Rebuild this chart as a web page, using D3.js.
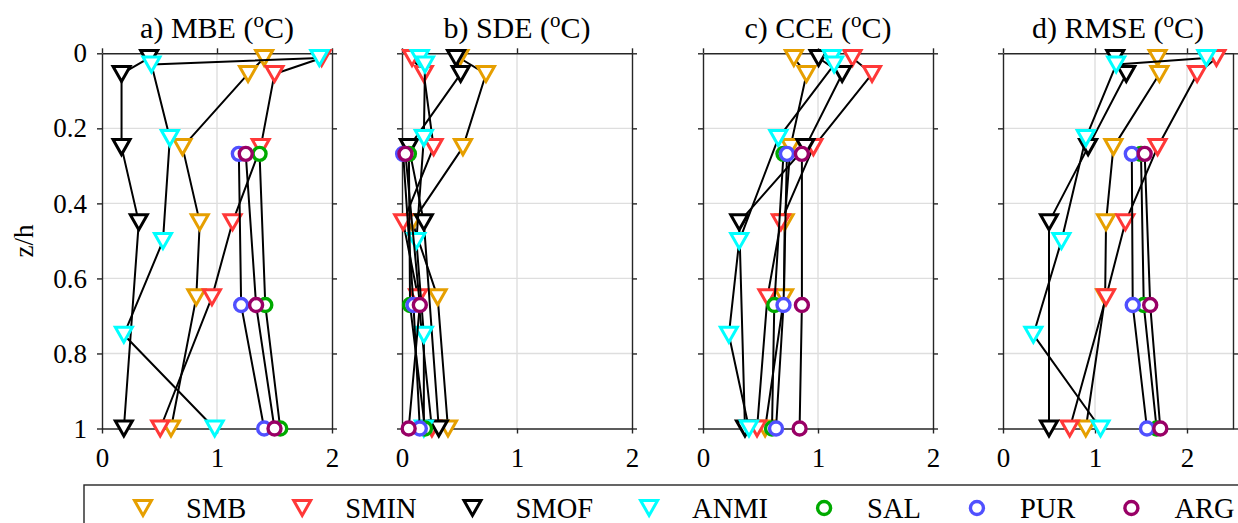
<!DOCTYPE html>
<html><head><meta charset="utf-8">
<script src="https://cdn.jsdelivr.net/npm/d3@7"></script>
<style>
html,body{margin:0;padding:0;background:#fff;overflow:hidden}
svg{display:block}
text{font-family:'Liberation Serif','Times New Roman',serif;fill:#000}
</style></head><body>
<svg id="chart" width="1238" height="523"></svg>
<script>
// Stations, in plotting / legend order
const stations = ["SMB", "SMIN", "SMOF", "ANMI", "SAL", "PUR", "ARG"];
const stationColors = ["#E69F00", "#FF3838", "#000000", "#00FFFF", "#00AA00", "#5050FF", "#990066"];
const stationMarkers = ["tri", "tri", "tri", "tri", "circle", "circle", "circle"];

// Normalized measurement heights z/h for each station
const zSMB  = [0.0125, 0.055, 0.25, 0.45, 0.65, 1];
const zSMIN = [0.0125, 0.055, 0.25, 0.45, 0.65, 1];
const zSMOF = [0.0125, 0.055, 0.25, 0.45, 1];
const zANMI = [0.0125, 0.03, 0.226, 0.5, 0.75, 1];
const zSAL  = [0.268, 0.671, 1];
const zPUR  = [0.268, 0.671, 1];
const zARG  = [0.268, 0.671, 1];

// a) mean bias error (°C)
const mbeSMB  = [1.41, 1.27, 0.70, 0.85, 0.82, 0.60];
const mbeSMIN = [1.91, 1.50, 1.38, 1.135, 0.956, 0.506];
const mbeSMOF = [0.41, 0.17, 0.17, 0.32, 0.19];
const mbeANMI = [1.89, 0.43, 0.59, 0.53, 0.19, 0.98];
const mbeSAL  = [1.37, 1.42, 1.55];
const mbePUR  = [1.19, 1.21, 1.41];
const mbeARG  = [1.25, 1.34, 1.50];

// b) standard deviation error (°C)
const sdeSMB  = [0.50, 0.73, 0.53, 0.09, 0.31, 0.40];
const sdeSMIN = [0.087, 0.19, 0.275, 0.01, 0.14, 0.26];
const sdeSMOF = [0.47, 0.51, 0.06, 0.19, 0.32];
const sdeANMI = [0.155, 0.20, 0.19, 0.125, 0.19, 0.19];
const sdeSAL  = [0.06, 0.07, 0.20];
const sdePUR  = [0.01, 0.10, 0.155];
const sdeARG  = [0.03, 0.155, 0.058];

// c) cross-correlation error (°C)
const cceSMB  = [0.79, 0.90, 0.76, 0.71, 0.705, 0.54];
const cceSMIN = [1.30, 1.47, 0.96, 0.677, 0.56, 0.47];
const cceSMOF = [1.005, 1.21, 0.89, 0.315, 0.365];
const cceANMI = [1.12, 1.14, 0.655, 0.315, 0.225, 0.40];
const cceSAL  = [0.70, 0.62, 0.60];
const ccePUR  = [0.73, 0.70, 0.635];
const cceARG  = [0.86, 0.86, 0.84];

// d) root mean square error (°C)
const rmseSMB  = [1.68, 1.70, 1.20, 1.12, 1.11, 0.90];
const rmseSMIN = [2.32, 2.11, 1.68, 1.33, 1.12, 0.725];
const rmseSMOF = [1.22, 1.34, 0.925, 0.50, 0.50];
const rmseANMI = [2.21, 1.23, 0.90, 0.635, 0.33, 1.06];
const rmseSAL  = [1.50, 1.53, 1.67];
const rmsePUR  = [1.40, 1.41, 1.565];
const rmseARG  = [1.54, 1.60, 1.71];

// Panel titles, x limits and tick labels
const panelTitles = ["a) MBE", "b) SDE", "c) CCE", "d) RMSE"];
const panelXMax = [2, 2, 2, 2.5];
const xTickValues = [0, 1, 2];
const yTickValues = [0, 0.2, 0.4, 0.6, 0.8, 1];
const yLabel = "z/h";

const heights = [zSMB, zSMIN, zSMOF, zANMI, zSAL, zPUR, zARG];
const panelValues = [
  [mbeSMB, mbeSMIN, mbeSMOF, mbeANMI, mbeSAL, mbePUR, mbeARG],
  [sdeSMB, sdeSMIN, sdeSMOF, sdeANMI, sdeSAL, sdePUR, sdeARG],
  [cceSMB, cceSMIN, cceSMOF, cceANMI, cceSAL, ccePUR, cceARG],
  [rmseSMB, rmseSMIN, rmseSMOF, rmseANMI, rmseSAL, rmsePUR, rmseARG]
];

// ---- layout ----
const serif = "'Liberation Serif','Times New Roman',serif";
const panelLeft = [102, 402, 703, 1003];
const panelWidth = 230;
const plotTop = 53.3, plotBottom = 428.5;
const axisColor = "#262626", gridColor = "#dedede";
const tickFont = 27, titleFont = 30, legendFont = 28.5;

const svg = d3.select("#chart");
const y = d3.scaleLinear().domain([0, 1]).range([plotTop, plotBottom]);

const triPath = "M-8.5,-7.5L8.5,-7.5L0,7.5Z";

function drawMarker(sel, kind, color) {
  if (kind === "tri") {
    sel.append("path").attr("d", triPath)
      .attr("fill", "#fff").attr("stroke", color)
      .attr("stroke-width", 3).attr("stroke-linejoin", "miter");
  } else {
    sel.append("circle").attr("r", 6.5)
      .attr("fill", "#fff").attr("stroke", color)
      .attr("stroke-width", 3.4);
  }
}

panelValues.forEach((vals, p) => {
  const x = d3.scaleLinear().domain([0, panelXMax[p]]).range([panelLeft[p], panelLeft[p] + panelWidth]);
  const g = svg.append("g");

  // grid
  const xGrid = xTickValues.filter(t => t > 0 && t < panelXMax[p]);
  g.selectAll(".gx").data(xGrid).join("line")
    .attr("x1", d => x(d)).attr("x2", d => x(d))
    .attr("y1", plotTop).attr("y2", plotBottom)
    .attr("stroke", gridColor).attr("stroke-width", 1.4);
  g.selectAll(".gy").data(yTickValues.filter(t => t > 0 && t < 1)).join("line")
    .attr("x1", x.range()[0]).attr("x2", x.range()[1])
    .attr("y1", d => y(d)).attr("y2", d => y(d))
    .attr("stroke", gridColor).attr("stroke-width", 1.4);

  // axes box with outward ticks
  const styleAxis = a => {
    a.attr("font-family", serif).attr("font-size", tickFont);
    a.selectAll(".domain").attr("stroke", axisColor).attr("stroke-width", 1.4);
    a.selectAll(".tick line").attr("stroke", axisColor).attr("stroke-width", 1.4);
    a.selectAll("text").attr("fill", "#000")
      .style("font-family", serif)
      .style("font-size", tickFont + "px");
  };
  const bottom = g.append("g").attr("transform", `translate(0,${plotBottom})`)
    .call(d3.axisBottom(x).tickValues(xTickValues).tickSizeInner(5).tickSizeOuter(0).tickPadding(14).tickFormat(d3.format("d")));
  styleAxis(bottom);
  const top = g.append("g").attr("transform", `translate(0,${plotTop})`)
    .call(d3.axisTop(x).tickValues(xTickValues).tickSizeInner(5).tickSizeOuter(0).tickFormat(""));
  styleAxis(top);
  const left = g.append("g").attr("transform", `translate(${x.range()[0]},0)`)
    .call(d3.axisLeft(y).tickValues(yTickValues).tickSizeInner(5).tickSizeOuter(0).tickPadding(10)
      .tickFormat(p === 0 ? (d => d3.format("~g")(d)) : ""));
  styleAxis(left);
  const right = g.append("g").attr("transform", `translate(${x.range()[1]},0)`)
    .call(d3.axisRight(y).tickValues(yTickValues).tickSizeInner(5).tickSizeOuter(0).tickFormat(""));
  styleAxis(right);

  // title with superscript degree
  const t = g.append("text")
    .attr("x", (x.range()[0] + x.range()[1]) / 2).attr("y", 38)
    .attr("text-anchor", "middle").style("font-size", titleFont + "px");
  t.append("tspan").text(panelTitles[p] + " (");
  t.append("tspan").text("o").style("font-size", (titleFont * 0.7) + "px").attr("dy", -11);
  t.append("tspan").text("C)").attr("dy", 11);

  // profiles: black connecting line, then hollow markers, station by station
  const line = d3.line().x(d => x(d[0])).y(d => y(d[1]));
  stations.forEach((s, i) => {
    const pts = vals[i].map((v, k) => [v, heights[i][k]]);
    g.append("path").datum(pts).attr("d", line)
      .attr("fill", "none").attr("stroke", "#000").attr("stroke-width", 2)
      .attr("stroke-linejoin", "round");
    pts.forEach(pt => {
      const m = g.append("g").attr("transform", `translate(${x(pt[0])},${y(pt[1])})`);
      drawMarker(m, stationMarkers[i], stationColors[i]);
    });
  });
});

// y axis label
svg.append("text")
  .attr("transform", `translate(33,${y(0.5)}) rotate(-90)`)
  .attr("text-anchor", "middle").style("font-size", tickFont + "px")
  .text(yLabel);

// legend
const legend = svg.append("g");
legend.append("rect").attr("x", 84).attr("y", 485).attr("width", 1300).attr("height", 80)
  .attr("fill", "#fff").attr("stroke", axisColor).attr("stroke-width", 1.4);
let lx = 143;
stations.forEach((s, i) => {
  const m = legend.append("g").attr("transform", `translate(${lx},508)`);
  drawMarker(m, stationMarkers[i], stationColors[i]);
  const txt = legend.append("text").attr("x", lx + 43).attr("y", 518)
    .style("font-size", legendFont + "px").text(s);
  lx = lx + 43 + txt.node().getComputedTextLength() + 56;
});
</script>
</body></html>
